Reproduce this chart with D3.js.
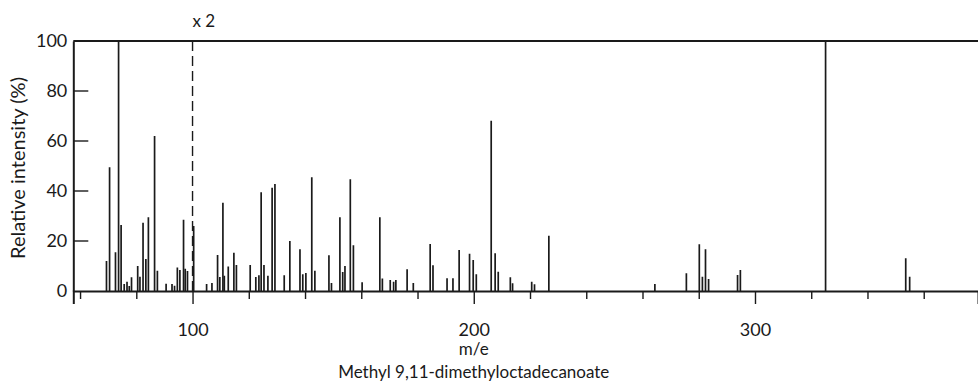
<!DOCTYPE html>
<html>
<head>
<meta charset="utf-8">
<script src="https://cdn.jsdelivr.net/npm/d3@7"></script>
<style>
  html, body { margin: 0; padding: 0; background: #fff; }
  svg text { font-family: Lato, "DejaVu Sans", sans-serif; font-weight: 400; fill: #1a1a1a; }
</style>
</head>
<body>
<svg id="chart" width="978" height="383"></svg>
<script>
// m/e values of the peaks
const massValues = [69.4, 70.5, 72.6, 73.7, 74.6, 75.7, 76.7, 77.5, 78.3, 80.5,
  81.3, 82.4, 83.4, 84.3, 86.5, 87.5, 90.6, 92.7, 93.6, 94.6,
  95.5, 96.8, 97.4, 98.2, 100.4, 105.0, 106.9, 108.9, 109.7, 110.8,
  111.3, 112.7, 114.7, 115.6, 120.5, 122.5, 123.6, 124.4, 125.4, 126.8,
  128.3, 129.3, 132.6, 134.6, 138.2, 139.2, 140.3, 142.4, 143.5, 148.5,
  149.4, 152.4, 153.4, 154.2, 156.1, 157.2, 160.3, 166.6, 167.5, 170.3,
  171.5, 172.3, 176.3, 178.5, 184.5, 185.5, 190.5, 192.6, 194.8, 198.5,
  199.8, 200.9, 206.2, 207.6, 208.7, 213.0, 213.8, 220.6, 221.6, 226.7,
  264.4, 275.6, 280.2, 281.3, 282.4, 283.5, 293.8, 294.8, 325.1, 353.6,
  355.0];
// relative intensities (%)
const intensities = [12, 49.5, 15.5, 100, 26.4, 2.8, 3.7, 2, 5.5, 10,
  5.7, 27.3, 12.8, 29.5, 62, 8.1, 2.9, 2.8, 2.1, 9.4,
  8.4, 28.5, 8.9, 8, 26, 2.8, 3.2, 14.4, 5.6, 35.3,
  6.1, 9.8, 15.3, 10.4, 10.4, 5.6, 6.3, 39.5, 10.4, 6.1,
  41.3, 42.8, 6.3, 20, 16.7, 6.7, 7.2, 45.5, 8.1, 14.3,
  3.2, 29.5, 7.6, 10, 44.7, 18.3, 3.5, 29.5, 5, 4.4,
  3.7, 4.4, 8.7, 3.2, 18.8, 10.3, 5.1, 5.1, 16.4, 14.9,
  12.4, 6.7, 68.1, 15.1, 7.7, 5.5, 3.1, 3.7, 2.7, 22.1,
  2.8, 7.1, 18.7, 5.7, 16.7, 4.8, 6.4, 8.4, 100, 13.1,
  5.7];
const xMinorTicks = [60, 80, 120, 140, 160, 180, 220, 240, 260, 280, 320, 340, 360];
const xMajorTicks = [100, 200, 300];
const yTicks = [0, 20, 40, 60, 80, 100];
const gainMark = 100;       // m/e where the x2 amplification starts
const gainLabel = "x 2";
const xTitle = "m/e";
const yTitle = "Relative intensity (%)";
const compound = "Methyl 9,11-dimethyloctadecanoate";

const svg = d3.select("#chart");
const x = d3.scaleLinear().domain([57.6, 379.3]).range([73.3, 978]);
const y = d3.scaleLinear().domain([0, 100]).range([291, 41]);
const ink = "#1a1a1a";

// peaks
const peaks = massValues.map((m, i) => ({ m, v: intensities[i] }));
svg.append("g").selectAll("line").data(peaks).join("line")
  .attr("x1", d => x(d.m)).attr("x2", d => x(d.m))
  .attr("y1", y(0)).attr("y2", d => y(d.v))
  .attr("stroke", ink).attr("stroke-width", 1.7);

// x2 dashed divider
svg.append("line")
  .attr("x1", x(gainMark)).attr("x2", x(gainMark))
  .attr("y1", y(100)).attr("y2", y(0))
  .attr("stroke", ink).attr("stroke-width", 1.4)
  .attr("stroke-dasharray", "10,5");
svg.append("text")
  .attr("x", x(gainMark)).attr("y", 27)
  .attr("font-size", 17).text(gainLabel);

// x axis
const xAxis = d3.axisBottom(x).tickValues(xMajorTicks).tickSize(13).tickPadding(19)
  .tickFormat(d3.format("d"));
const gx = svg.append("g").attr("transform", `translate(0,${y(0)})`).call(xAxis);
gx.select(".domain").attr("stroke", ink).attr("stroke-width", 2);
gx.selectAll(".tick line").attr("stroke", ink).attr("stroke-width", 1.4);
gx.selectAll(".tick text").attr("font-size", 18).attr("font-family", "Lato, sans-serif").attr("fill", ink);
const gxm = svg.append("g").attr("transform", `translate(0,${y(0)})`)
  .call(d3.axisBottom(x).tickValues(xMinorTicks).tickSize(8).tickFormat(""));
gxm.select(".domain").remove();
gxm.selectAll(".tick line").attr("stroke", ink).attr("stroke-width", 1.4);

// y axis (ticks pointing inward)
const yAxis = d3.axisLeft(y).tickValues(yTicks).tickSize(0).tickPadding(6);
const gy = svg.append("g").attr("transform", `translate(${x.range()[0]},0)`).call(yAxis);
gy.select(".domain").attr("stroke", ink).attr("stroke-width", 2);
gy.selectAll(".tick text").attr("font-size", 18).attr("font-family", "Lato, sans-serif").attr("fill", ink);
svg.append("g").selectAll("line").data(yTicks.filter(t => t > 0 && t < 100)).join("line")
  .attr("x1", x.range()[0]).attr("x2", x.range()[0] + 15)
  .attr("y1", d => y(d)).attr("y2", d => y(d))
  .attr("stroke", ink).attr("stroke-width", 1.4);

// top frame line
svg.append("line")
  .attr("x1", x.range()[0]).attr("x2", x.range()[1])
  .attr("y1", y(100)).attr("y2", y(100))
  .attr("stroke", ink).attr("stroke-width", 2);

// titles
svg.append("text").attr("x", x(200)).attr("y", 355)
  .attr("text-anchor", "middle").attr("font-size", 17).text(xTitle);
svg.append("text").attr("x", x(200)).attr("y", 378)
  .attr("text-anchor", "middle").attr("font-size", 17).text(compound);
svg.append("text")
  .attr("transform", `translate(25,168) rotate(-90)`)
  .attr("text-anchor", "middle").attr("font-size", 20).text(yTitle);
</script>
</body>
</html>
